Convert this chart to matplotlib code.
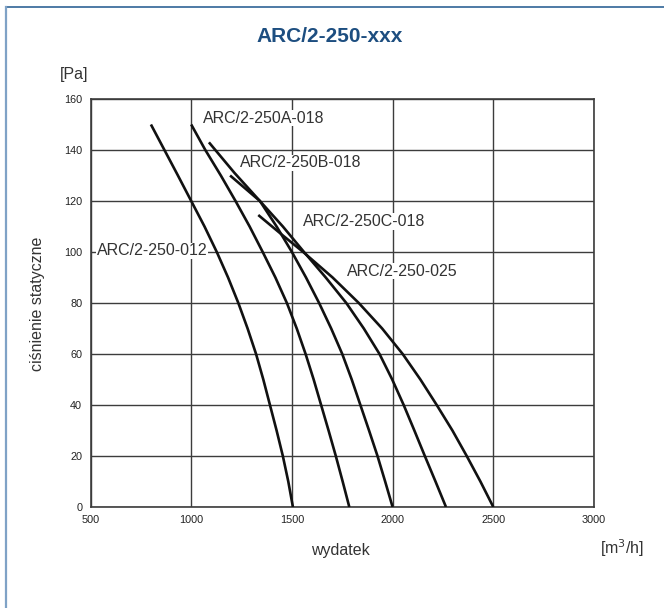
import matplotlib
matplotlib.use('Agg')
import matplotlib.pyplot as plt
from matplotlib.lines import Line2D

plt.rcParams['font.family'] = ['Liberation Sans', 'DejaVu Sans']

# curve data (flow m3/h, static pressure Pa)
flow_012 = [800, 867, 934, 1000, 1066, 1127, 1183, 1234, 1280, 1322, 1358,
            1391, 1424, 1455, 1482, 1505]
pres_012 = [150, 140, 130, 120, 110, 100, 90, 80, 70, 60, 50, 40, 30, 20, 10, 0]

flow_a = [1000, 1070, 1147, 1220, 1290, 1355, 1418, 1475, 1524, 1568, 1608,
          1645, 1682, 1718, 1752, 1785]
pres_a = [150, 140, 130, 120, 110, 100, 90, 80, 70, 60, 50, 40, 30, 20, 10, 0]

flow_b = [1088, 1215, 1341, 1424, 1500, 1570, 1635, 1695, 1750, 1797, 1840,
          1883, 1925, 1963, 2000]
pres_b = [143, 131, 120, 110, 100, 90, 80, 70, 60, 50, 40, 30, 20, 10, 0]

flow_c = [1193, 1341, 1455, 1560, 1668, 1770, 1857, 1935, 1998, 2055, 2108,
          2160, 2213, 2265]
pres_c = [130, 120, 110, 100, 90, 80, 70, 60, 50, 40, 30, 20, 10, 0]

flow_025 = [1333, 1447, 1556, 1702, 1832, 1948, 2050, 2138, 2219, 2297, 2368,
            2436, 2500]
pres_025 = [114.5, 107, 100, 90, 80, 70, 60, 50, 40, 30, 20, 10, 0]

labels = ['ARC/2-250-012', 'ARC/2-250A-018', 'ARC/2-250B-018',
          'ARC/2-250C-018', 'ARC/2-250-025']
label_x = [532, 1059, 1243, 1555, 1773]
label_y = [100.5, 152.5, 135, 112, 92.5]

x_ticks = [500, 1000, 1500, 2000, 2500, 3000]
y_ticks = [0, 20, 40, 60, 80, 100, 120, 140, 160]

fig = plt.figure(figsize=(6.64, 6.08), dpi=100)
ax = fig.add_axes([0.1363, 0.1661, 0.7583, 0.6711])

grid_col = '#3c3c3c'
ax.set_xlim(500, 3000)
ax.set_ylim(0, 160)
ax.set_xticks(x_ticks)
ax.set_yticks(y_ticks)
ax.grid(True, color=grid_col, linewidth=1.0)
ax.set_axisbelow(True)
for s in ax.spines.values():
    s.set_color(grid_col)
    s.set_linewidth(1.2)
ax.tick_params(length=0, labelsize=7.8, labelcolor='#222222')
ax.tick_params(axis='x', pad=6)
ax.tick_params(axis='y', pad=6)

for fx, py in [(flow_012, pres_012), (flow_a, pres_a), (flow_b, pres_b),
               (flow_c, pres_c), (flow_025, pres_025)]:
    ax.plot(fx, py, color='#111111', linewidth=1.9, solid_capstyle='butt',
            solid_joinstyle='round', zorder=3)

for t, lx, ly in zip(labels, label_x, label_y):
    ax.text(lx, ly, t, fontsize=11.5, color='#333333', ha='left', va='center',
            zorder=4, bbox=dict(facecolor='white', edgecolor='none', pad=0.5))

fig.text(0.497, 1 - 37 / 608, 'ARC/2-250-xxx', ha='center', va='center',
         fontsize=15, fontweight='bold', color='#1d4e80',
         family=['Liberation Sans Narrow', 'Liberation Sans', 'DejaVu Sans'])
fig.text(60 / 664, 1 - 75 / 608, '[Pa]', ha='left', va='center',
         fontsize=11.5, color='#333333')
fig.text(38 / 664, 1 - 304 / 608, 'ciśnienie statyczne', rotation=90,
         ha='center', va='center', fontsize=11.5, color='#333333')
fig.text(340 / 664, 1 - 550 / 608, 'wydatek', ha='center', va='center',
         fontsize=11.5, color='#333333')
fig.text(622 / 664, 1 - 548 / 608, '[m$^3$/h]', ha='center', va='center',
         fontsize=11.5, color='#333333')

# frame lines at top and left of the picture
fig.add_artist(Line2D([6 / 664, 1], [1 - 7 / 608, 1 - 7 / 608],
                      transform=fig.transFigure, color='#2f6396', linewidth=1.2))
fig.add_artist(Line2D([5.5 / 664, 5.5 / 664], [0, 1 - 7 / 608],
                      transform=fig.transFigure, color='#7fa2c6', linewidth=1.6))

fig.savefig('out.png', dpi=100)
